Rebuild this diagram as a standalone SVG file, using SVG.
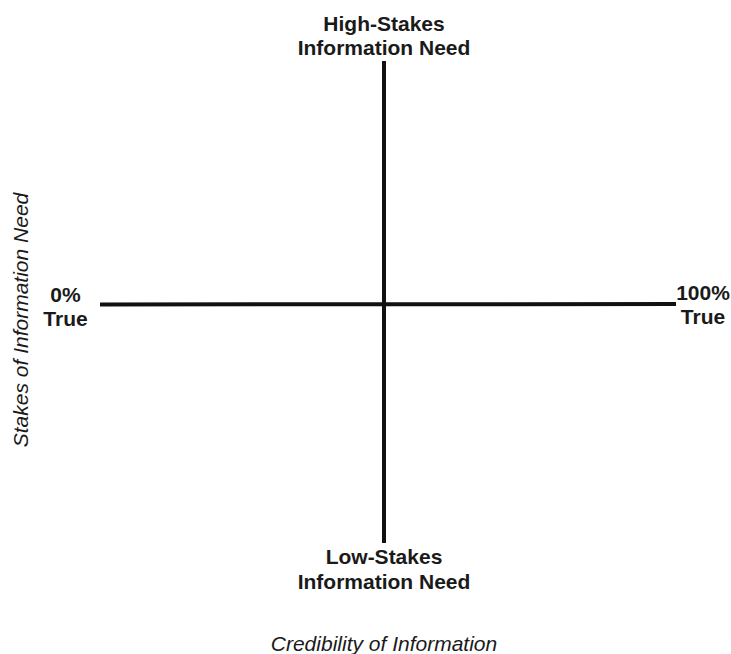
<svg xmlns="http://www.w3.org/2000/svg" width="731" height="654" viewBox="0 0 731 654">
  <style>
    .lbl { font-family: "Liberation Sans", Arial, sans-serif; font-size: 21px; font-weight: bold; fill: #1a1a1a; text-anchor: middle; }
    .axis { font-family: "Liberation Sans", Arial, sans-serif; font-size: 21px; font-style: italic; fill: #1a1a1a; text-anchor: middle; }
    .ln { stroke: #111; stroke-width: 4; fill: none; }
  </style>
  <rect width="731" height="654" fill="#fff"/>
  <g id="connectors">
    <line class="ln" x1="100" y1="304.5" x2="676" y2="304" />
    <line class="ln" x1="384" y1="61" x2="384" y2="543" />
  </g>
  <g id="high-stakes">
    <text class="lbl" x="384" y="30.5">High-Stakes</text>
    <text class="lbl" x="384" y="55">Information Need</text>
  </g>
  <g id="low-stakes">
    <text class="lbl" x="384" y="563.5">Low-Stakes</text>
    <text class="lbl" x="384" y="588.5">Information Need</text>
  </g>
  <g id="zero-true">
    <text class="lbl" x="65.5" y="302">0%</text>
    <text class="lbl" x="65.5" y="325.5">True</text>
  </g>
  <g id="hundred-true">
    <text class="lbl" x="703" y="299.5">100%</text>
    <text class="lbl" x="703" y="323.5">True</text>
  </g>
  <g id="x-axis-label">
    <text class="axis" x="384" y="651">Credibility of Information</text>
  </g>
  <g id="y-axis-label">
    <text class="axis" transform="translate(28,320) rotate(-90)" x="0" y="0">Stakes of Information Need</text>
  </g>
</svg>
